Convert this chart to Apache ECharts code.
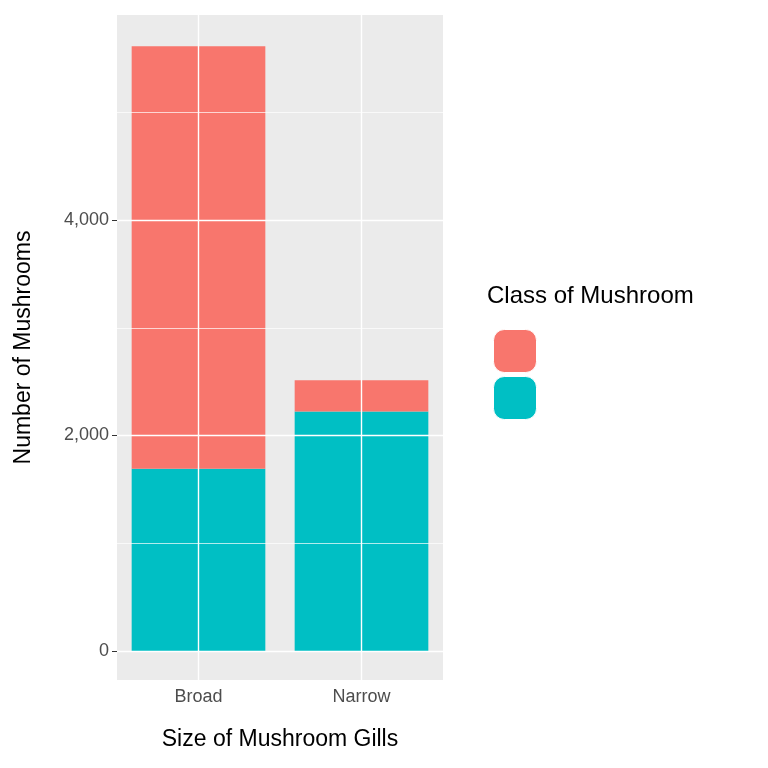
<!DOCTYPE html>
<html lang="en">
<head>
  <meta charset="UTF-8">
  <title>Mushroom gill size</title>
  <script src="https://cdn.jsdelivr.net/npm/echarts@6/dist/echarts.min.js"></script>
  <style>html,body{margin:0;background:#fff}#chart{width:768px;height:768px}</style>
</head>
<body>
<div id="chart"></div>
<script>
  var categories = ['Broad', 'Narrow'];
  var poisonous = [1692, 2224];
  var edible = [3920, 288];
  var majorTicks = [0, 2000, 4000];
  var minorTicks = [1000, 3000, 5000];

  var myChart = echarts.init(document.getElementById('chart'));
  var gridLines = [];
  majorTicks.forEach(function (v) { gridLines.push({ yAxis: v, lineStyle: { width: 1.4 } }); });
  minorTicks.forEach(function (v) { gridLines.push({ yAxis: v, lineStyle: { width: 0.7 } }); });
  categories.forEach(function (c) { gridLines.push({ xAxis: c, lineStyle: { width: 1.4 } }); });

  var options = {
    animation: false,
    grid: { left: 117, right: 325, top: 15, bottom: 88, show: true, backgroundColor: '#EBEBEB', borderWidth: 0 },
    legend: {
      data: ['e', 'p'], orient: 'vertical', left: 488, top: 324, itemWidth: 43, itemHeight: 43,
      itemGap: 3, formatter: function () { return ''; }, selectedMode: false,
      itemStyle: { borderColor: '#fff', borderWidth: 1 }
    },
    graphic: [{ type: 'text', left: 487, top: 284, style: { text: 'Class of Mushroom', font: '24px Arial', fill: '#000' } }],
    xAxis: {
      type: 'category', data: categories,
      name: 'Size of Mushroom Gills', nameLocation: 'middle', nameGap: 48,
      nameTextStyle: { fontSize: 23, color: '#000', fontFamily: 'Arial' },
      axisLine: { show: false },
      axisTick: { alignWithLabel: true, length: 5, lineStyle: { color: '#333' } },
      axisLabel: { fontSize: 18, color: '#4D4D4D', fontFamily: 'Arial', margin: 8 },
      splitLine: { show: false }
    },
    yAxis: {
      type: 'value', min: -269, max: 5903,
      name: 'Number of Mushrooms', nameLocation: 'middle', nameGap: 82,
      nameTextStyle: { fontSize: 23, color: '#000', fontFamily: 'Arial' },
      axisLine: { show: false },
      axisTick: { show: true, length: 5, lineStyle: { color: '#333' }, customValues: majorTicks },
      axisLabel: { fontSize: 18, color: '#4D4D4D', fontFamily: 'Arial', margin: 8, customValues: majorTicks },
      splitLine: { show: false }
    },
    series: [
      {
        name: 'grid', type: 'line', data: [], z: 1, silent: true,
        markLine: { symbol: 'none', silent: true, label: { show: false }, lineStyle: { color: '#fff', type: 'solid' }, data: gridLines }
      },
      { name: 'p', type: 'bar', stack: 'all', data: poisonous, z: 2, barCategoryGap: '18%', itemStyle: { color: '#00BFC4' } },
      { name: 'e', type: 'bar', stack: 'all', data: edible, z: 2, itemStyle: { color: '#F8766D' } }
    ]
  };
  myChart.setOption(options);
</script>
</body>
</html>
